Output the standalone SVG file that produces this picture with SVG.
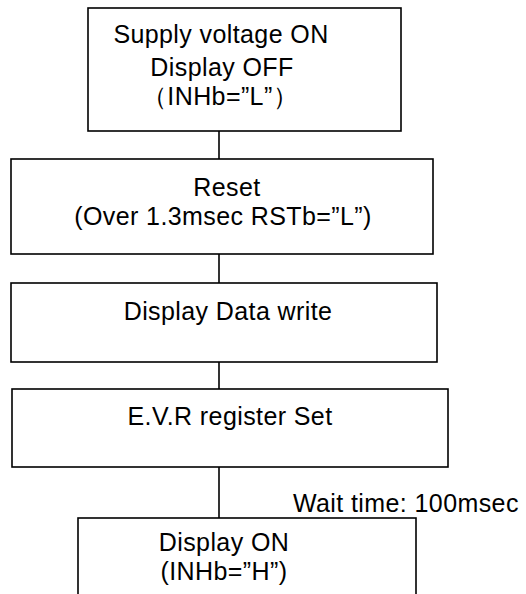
<svg xmlns="http://www.w3.org/2000/svg" width="526" height="594" viewBox="0 0 526 594">
<style>
  .box { fill: #ffffff; stroke: #000000; stroke-width: 1.6; }
  .lbl { font-family: "Liberation Sans", Arial, sans-serif; font-size: 25px; letter-spacing: 0.4px; fill: #000000; text-anchor: middle; }
  .conn { stroke: #000000; stroke-width: 1.6; fill: none; }
</style>
<rect x="0" y="0" width="526" height="594" fill="#ffffff"/>
<g id="connectors">
  <line class="conn" x1="219" y1="131" x2="219" y2="159"/>
  <line class="conn" x1="219" y1="254" x2="219" y2="283"/>
  <line class="conn" x1="219" y1="362" x2="219" y2="389"/>
  <line class="conn" x1="219" y1="467" x2="219" y2="518"/>
</g>
<g id="node-supply">
  <rect class="box" x="88" y="8" width="313" height="123"/>
  <text class="lbl" x="221" y="43">Supply voltage ON</text>
  <text class="lbl" x="222" y="76">Display OFF</text>
  <text class="lbl" x="220" y="105">（INHb=”L”）</text>
</g>
<g id="node-reset">
  <rect class="box" x="11" y="159" width="422" height="95"/>
  <text class="lbl" x="227" y="196">Reset</text>
  <text class="lbl" x="223" y="225">(Over 1.3msec RSTb=”L”)</text>
</g>
<g id="node-data">
  <rect class="box" x="11" y="283" width="426" height="79"/>
  <text class="lbl" x="228" y="320">Display Data write</text>
</g>
<g id="node-evr">
  <rect class="box" x="12" y="389" width="436" height="78"/>
  <text class="lbl" x="230" y="425">E.V.R register Set</text>
</g>
<g id="label-wait">
  <text class="lbl" x="293" y="512" style="text-anchor:start">Wait time: 100msec</text>
</g>
<g id="node-display-on">
  <rect class="box" x="78" y="518" width="338" height="90"/>
  <text class="lbl" x="224" y="551">Display ON</text>
  <text class="lbl" x="224" y="580">(INHb=”H”)</text>
</g>
</svg>
